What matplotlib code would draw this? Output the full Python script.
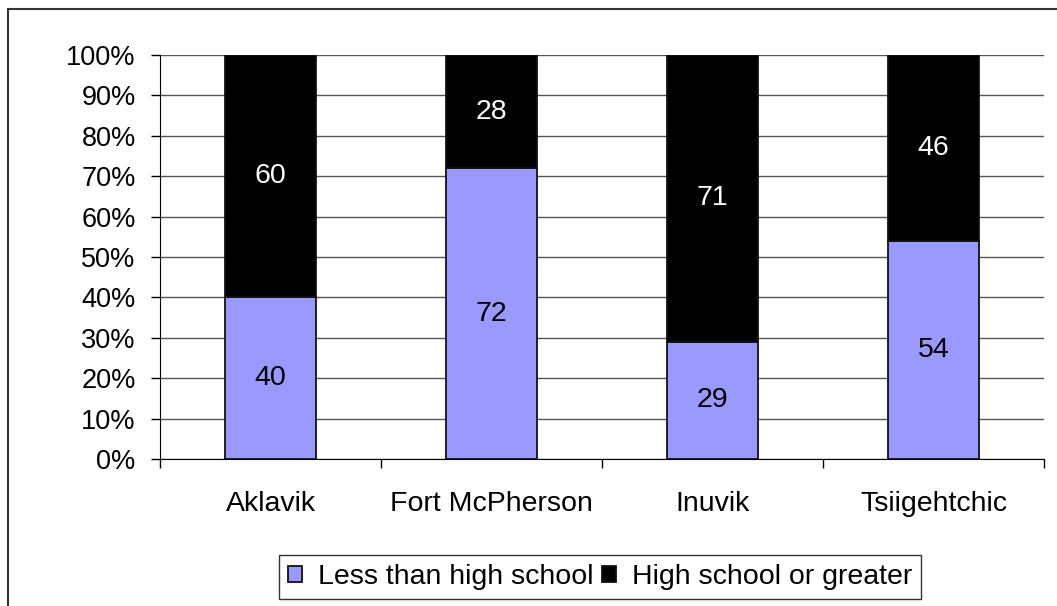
import matplotlib.pyplot as plt
import matplotlib.patches as patches
import numpy as np

# Education level by community (percent of population)
communities = ["Aklavik", "Fort McPherson", "Inuvik", "Tsiigehtchic"]
less_than_hs = [40, 72, 29, 54]
hs_or_greater = [60, 28, 71, 46]
series_names = ["Less than high school", "High school or greater"]

plt.rcParams['font.family'] = ['Liberation Sans', 'DejaVu Sans']
fs = 20.5

fig = plt.figure(figsize=(10.57, 6.06), dpi=100)
ax = fig.add_axes([160 / 1057, 1 - 459 / 606, (1044 - 160) / 1057, (459 - 55) / 606])

# normalise each column to 100%
totals = np.array(less_than_hs) + np.array(hs_or_greater)
low = np.array(less_than_hs) / totals * 100
high = np.array(hs_or_greater) / totals * 100

x = np.arange(len(communities))
w = 0.41
ax.bar(x, low, w, color='#9999FF', edgecolor='#111111', linewidth=1.3,
       label=series_names[0], zorder=3)
ax.bar(x, high, w, bottom=low, color='black', edgecolor='#111111', linewidth=1.3,
       label=series_names[1], zorder=3)

for i in range(len(x)):
    ax.text(x[i], low[i] / 2, f"{less_than_hs[i]}", ha='center', va='center',
            fontsize=fs, color='black', zorder=4)
    ax.text(x[i], low[i] + high[i] / 2, f"{hs_or_greater[i]}", ha='center', va='center',
            fontsize=fs, color='white', zorder=4)

ax.set_xlim(-0.5, len(x) - 0.5)
ax.set_ylim(0, 100)
ax.set_yticks(np.arange(0, 101, 10))
ax.set_yticklabels([f"{v}%" for v in range(0, 101, 10)])
ax.yaxis.grid(True, color='#555555', linewidth=1.0, zorder=0)

ax.set_xticks(x)
ax.set_xticklabels(communities)
ax.set_xticks(np.arange(-0.5, len(x), 1), minor=True)
ax.tick_params(axis='x', which='major', length=0, pad=23, labelsize=fs)
ax.tick_params(axis='x', which='minor', length=6.5, width=1, color='black')
ax.tick_params(axis='y', length=6.5, width=1, pad=11, labelsize=19.5)

for s in ['top', 'right']:
    ax.spines[s].set_visible(False)
ax.spines['left'].set_color('black')
ax.spines['bottom'].set_color('black')

leg = fig.legend(loc='center', bbox_to_anchor=(600 / 1057, 1 - 577 / 606), ncol=2,
                 fontsize=fs, frameon=True, fancybox=False, edgecolor='black',
                 handlelength=0.5, handleheight=0.5, handletextpad=0.55,
                 columnspacing=0.3, borderpad=0.3)
leg.get_frame().set_linewidth(1.0)

# outer chart border
fig.patches.append(patches.Rectangle((8 / 1057, -0.05), 1.2, 1 - 9 / 606 + 0.05,
                                     transform=fig.transFigure, fill=False,
                                     edgecolor='#333333', linewidth=1.5))

fig.savefig("out.png", dpi=100)
